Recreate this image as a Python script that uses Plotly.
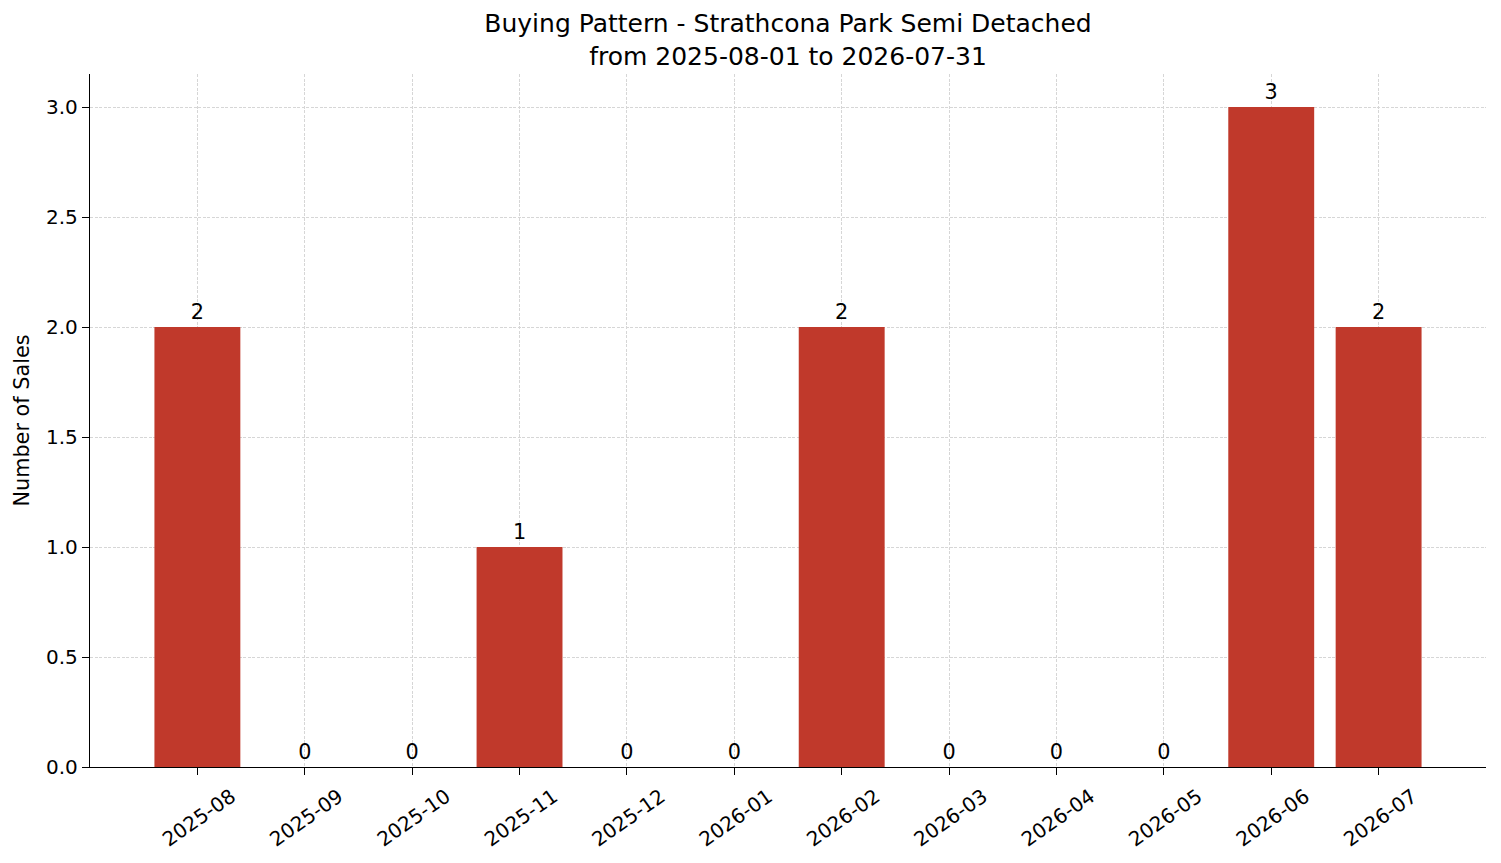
import plotly.graph_objects as go

months = ['2025-08', '2025-09', '2025-10', '2025-11', '2025-12', '2026-01',
          '2026-02', '2026-03', '2026-04', '2026-05', '2026-06', '2026-07']
sales = [2, 0, 0, 1, 0, 0, 2, 0, 0, 0, 3, 2]

fig = go.Figure()

fig.add_trace(go.Bar(
    x=months,
    y=sales,
    width=0.8,
    marker_color='#c0392b',
    marker_line_width=0,
    text=[str(v) for v in sales],
    textposition='outside',
    cliponaxis=False,
    textfont=dict(size=20.8, color='black'),
    showlegend=False,
))

fig.update_layout(
    title=dict(text='Buying Pattern - Strathcona Park Semi Detached<br>from 2025-08-01 to 2026-07-31',
               x=0.5, xanchor='center', xref='paper',
               yref='paper', y=1, yanchor='bottom', pad=dict(b=42),
               font=dict(size=25, color='black')),
    font=dict(family='DejaVu Sans', size=20.8, color='black'),
    width=1501,
    height=863,
    margin=dict(l=82, r=23, t=66, b=104, autoexpand=False),
    plot_bgcolor='white',
    paper_bgcolor='white',
)

grid = dict(showgrid=True, gridcolor='#d6d6d6', griddash='3px,1.5px', gridwidth=0.8)

fig.update_xaxes(
    type='category',
    range=[-1, 12],
    tickangle=-35,
    ticklabelshift=34,
    ticklabelstandoff=2,
    showline=True, linecolor='black', linewidth=1.3,
    ticks='outside', ticklen=7, tickcolor='black', tickwidth=1.3,
    layer='above traces',
    tickfont=dict(size=20),
    automargin=False,
    **grid,
)
fig.update_yaxes(
    title=dict(text='Number of Sales', font=dict(size=20.8), standoff=10),
    range=[0, 3.15],
    tickvals=[0, 0.5, 1, 1.5, 2, 2.5, 3],
    ticktext=['0.0', '0.5', '1.0', '1.5', '2.0', '2.5', '3.0'],
    showline=True, linecolor='black', linewidth=1.3,
    ticks='outside', ticklen=7, tickcolor='black', tickwidth=1.3,
    zeroline=False,
    layer='above traces',
    tickfont=dict(size=20),
    automargin=False,
    **grid,
)

fig.write_html("out.html")
